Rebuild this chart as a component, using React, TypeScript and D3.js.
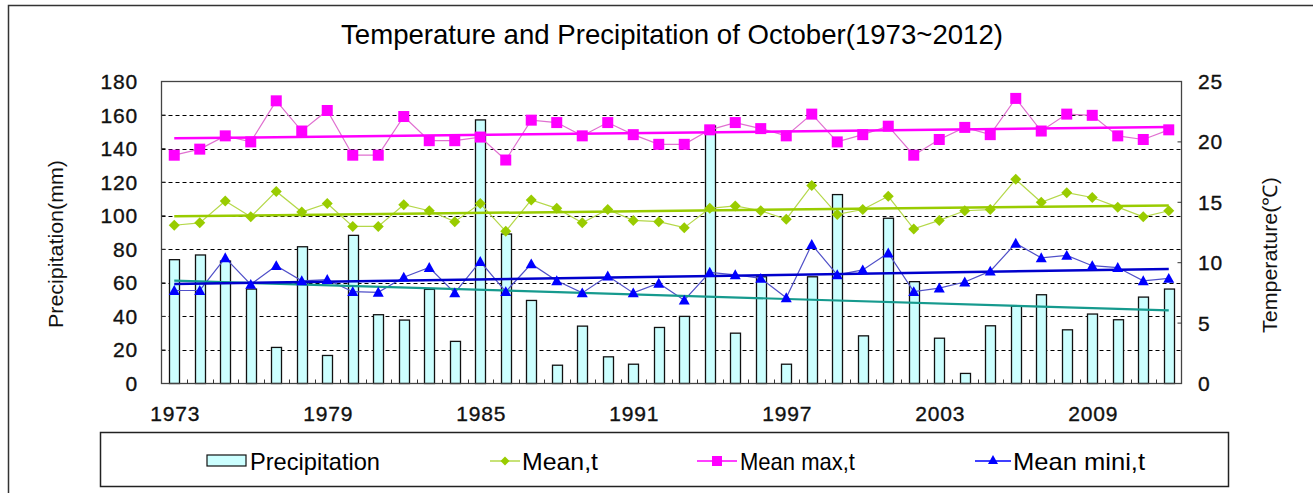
import React from 'react'
import * as d3 from 'd3'

const years = d3.range(1973, 2013)
const yearLabels = ['1973', '1979', '1985', '1991', '1997', '2003', '2009']
const precipTicks = [0, 20, 40, 60, 80, 100, 120, 140, 160, 180]
const tempTicks = [0, 5, 10, 15, 20, 25]

// mm
const precipitation = [
  73.8, 76.6, 73.0, 56.3, 21.5, 81.5, 16.7, 88.3, 41.0,
  37.8, 56.1, 25.1, 157.1, 89.1, 49.5, 10.9, 34.2, 15.9, 11.5,
  33.4, 40.0, 153.5, 30.0, 63.6, 11.5, 63.6, 112.6, 28.4, 98.5,
  60.7, 27.0, 6.0, 34.4, 46.1, 52.9, 32.0, 41.4, 38.0, 51.5, 56.3
]
// deg C
const meanT = [
  13.1, 13.3, 15.1, 13.8, 15.9, 14.2, 14.9, 13.0, 13.0,
  14.8, 14.3, 13.4, 14.9, 12.6, 15.2, 14.5, 13.3, 14.4, 13.5,
  13.4, 12.9, 14.5, 14.7, 14.3, 13.6, 16.4, 14.0, 14.4, 15.5,
  12.8, 13.5, 14.3, 14.4, 16.9, 15.0, 15.8, 15.4, 14.6, 13.8, 14.3
]
const meanMaxT = [
  18.9, 19.4, 20.5, 20.0, 23.4, 20.9, 22.6, 18.9, 18.9,
  22.1, 20.1, 20.1, 20.4, 18.5, 21.8, 21.6, 20.5, 21.6, 20.6,
  19.8, 19.8, 21.0, 21.6, 21.1, 20.5, 22.3, 20.0, 20.6, 21.3,
  18.9, 20.2, 21.2, 20.6, 23.6, 20.9, 22.3, 22.2, 20.5, 20.2, 21.0
]
const meanMinT = [
  7.7, 7.7, 10.4, 8.2, 9.75, 8.5, 8.6, 7.6, 7.55,
  8.8, 9.6, 7.5, 10.1, 7.6, 9.9, 8.5, 7.5, 8.9, 7.5,
  8.3, 6.9, 9.2, 9.0, 8.7, 7.1, 11.5, 9.0, 9.4, 10.8,
  7.6, 7.9, 8.4, 9.3, 11.6, 10.4, 10.6, 9.75, 9.6, 8.5, 8.7
]

const W = 1313
const H = 493
const plot = { left: 161.5, right: 1181.5, top: 81.5, bottom: 383.5 }
const FONT = '"Liberation Sans", Arial, sans-serif'

// least squares trend over the category index, like Excel's linear trendline
const trend = (vals: number[]) => {
  const n = vals.length
  const mx = d3.mean(d3.range(n)) as number
  const my = d3.mean(vals) as number
  let sxy = 0
  let sxx = 0
  vals.forEach((v, i) => {
    sxy += (i - mx) * (v - my)
    sxx += (i - mx) * (i - mx)
  })
  const b = sxy / sxx
  const a = my - b * mx
  return [0, n - 1].map(i => ({ i, v: a + b * i }))
}

const Diamond = ({ x, y, r, fill }: any) => (
  <path d={`M${x},${y - r}L${x + r},${y}L${x},${y + r}L${x - r},${y}Z`} fill={fill} />
)
const Square = ({ x, y, r, fill }: any) => (
  <rect x={x - r} y={y - r} width={2 * r} height={2 * r} fill={fill} />
)
const Triangle = ({ x, y, r, fill }: any) => (
  <path d={`M${x},${y - r}L${x + r},${y + r * 0.8}L${x - r},${y + r * 0.8}Z`} fill={fill} />
)

export default function App() {
  const x = d3
    .scaleBand<number>()
    .domain(years)
    .range([plot.left, plot.right])
  const cx = (i: number) => (x(years[i]) as number) + x.bandwidth() / 2
  const yP = d3.scaleLinear().domain([0, 180]).range([plot.bottom, plot.top])
  const yT = d3.scaleLinear().domain([0, 25]).range([plot.bottom, plot.top])

  const tLine = d3
    .line<number>()
    .x((_, i) => cx(i))
    .y(d => yT(d))
  const trendLine = (vals: number[], y: any) =>
    d3
      .line<{ i: number; v: number }>()
      .x(d => cx(d.i))
      .y(d => y(d.v))(trend(vals)) as string

  const series = [
    { vals: meanT, color: '#99cc00', thin: '#b5d84a', trendColor: '#99cc00', M: Diamond, r: 5.5 },
    { vals: meanMaxT, color: '#ff00ff', thin: '#e070d0', trendColor: '#ff00ff', M: Square, r: 5.5 },
    { vals: meanMinT, color: '#0000ff', thin: '#5050c8', trendColor: '#0000cc', M: Triangle, r: 5.5 }
  ]

  const tickText = { fontSize: 21, fill: '#111', stroke: '#111', strokeWidth: 0.35, letterSpacing: 0.8 }
  const legendText = { fontSize: 24, fill: '#000' }

  return (
    <svg
      width={W}
      height={H}
      style={{ position: 'absolute', left: 0, top: 0, background: '#fff' }}
      fontFamily={FONT}
    >
      <rect x={8.5} y={5.5} width={W + 10} height={H + 10} fill="#fff" stroke="#333" strokeWidth={1.5} />

      <text
        x={672}
        y={44}
        textAnchor="middle"
        fontSize={28}
        textLength={662}
        lengthAdjust="spacingAndGlyphs"
        fill="#000"
      >
        Temperature and Precipitation of October(1973~2012)
      </text>

      {/* grid */}
      {precipTicks.slice(1, -1).map(t => (
        <line
          key={t}
          x1={plot.left}
          x2={plot.right}
          y1={Math.round(yP(t)) + 0.5}
          y2={Math.round(yP(t)) + 0.5}
          stroke="#000"
          strokeDasharray="4,3"
        />
      ))}

      {/* bars */}
      {precipitation.map((v, i) => (
        <rect
          key={i}
          x={Math.round(cx(i) - 5) + 0.5}
          y={yP(v)}
          width={10}
          height={plot.bottom - yP(v)}
          fill="#ccffff"
          stroke="#111"
          strokeWidth={1.3}
        />
      ))}

      {/* plot frame */}
      <rect
        x={plot.left}
        y={plot.top}
        width={plot.right - plot.left}
        height={plot.bottom - plot.top}
        fill="none"
        stroke="#444"
        strokeWidth={1.3}
      />

      {/* x ticks at category boundaries */}
      {years.slice(1).map(yr => (
        <line
          key={yr}
          x1={Math.round(x(yr) as number) + 0.5}
          x2={Math.round(x(yr) as number) + 0.5}
          y1={plot.bottom}
          y2={plot.bottom - 4}
          stroke="#333"
        />
      ))}
      {/* y ticks */}
      {precipTicks.slice(1, -1).map(t => (
        <line key={t} x1={plot.left} x2={plot.left + 4} y1={yP(t)} y2={yP(t)} stroke="#333" />
      ))}
      {tempTicks.slice(1, -1).map(t => (
        <line key={t} x1={plot.right - 4} x2={plot.right} y1={yT(t)} y2={yT(t)} stroke="#333" />
      ))}

      {/* thin connecting lines */}
      {series.map((s, k) => (
        <path key={k} d={tLine(s.vals) as string} fill="none" stroke={s.thin} strokeWidth={1.2} />
      ))}
      {/* trend lines */}
      <path d={trendLine(precipitation, yP)} stroke="#169a8e" strokeWidth={2.2} fill="none" />
      {series.map((s, k) => (
        <path key={k} d={trendLine(s.vals, yT)} stroke={s.trendColor} strokeWidth={2.5} fill="none" />
      ))}
      {/* markers */}
      {series.map((s, k) => (
        <g key={k}>
          {s.vals.map((v, i) => (
            <s.M key={i} x={cx(i)} y={yT(v)} r={s.r} fill={s.color} />
          ))}
        </g>
      ))}

      {/* left axis labels */}
      {precipTicks.map(t => (
        <text key={t} x={138} y={yP(t) + 7.5} textAnchor="end" {...tickText}>
          {t}
        </text>
      ))}
      {/* right axis labels */}
      {tempTicks.map(t => (
        <text key={t} x={1198} y={yT(t) + 7.5} textAnchor="start" {...tickText}>
          {t}
        </text>
      ))}
      {/* x labels */}
      {yearLabels.map(l => {
        const i = years.indexOf(+l)
        return (
          <text key={l} x={cx(i) + 1} y={421} textAnchor="middle" {...tickText}>
            {l}
          </text>
        )
      })}

      <text
        transform="translate(63,244) rotate(-90)"
        textAnchor="middle"
        fontSize={20}
        textLength={168}
        lengthAdjust="spacingAndGlyphs"
        fill="#111"
      >
        Precipitation(mm)
      </text>
      <text
        transform="translate(1277,255) rotate(-90)"
        textAnchor="middle"
        fontSize={20}
        textLength={156}
        lengthAdjust="spacingAndGlyphs"
        fill="#111"
      >
        Temperature(℃)
      </text>

      {/* legend */}
      <rect x={100.5} y={432.5} width={1128} height={54} fill="#fff" stroke="#222" strokeWidth={1.5} />
      <g>
        <rect x={207} y={455} width={39} height={11} fill="#ccffff" stroke="#111" strokeWidth={1.2} />
        <text x={250} y={470} textLength={130} lengthAdjust="spacingAndGlyphs" {...legendText}>
          Precipitation
        </text>

        <line x1={490} x2={520} y1={461} y2={461} stroke="#b5d84a" strokeWidth={1.5} />
        <Diamond x={505} y={461} r={4.5} fill="#99cc00" />
        <text x={522} y={470} textLength={76} lengthAdjust="spacingAndGlyphs" {...legendText}>
          Mean,t
        </text>

        <line x1={697} x2={737} y1={461} y2={461} stroke="#ff00ff" strokeWidth={1.5} />
        <Square x={717} y={461} r={5} fill="#ff00ff" />
        <text x={740} y={470} textLength={115} lengthAdjust="spacingAndGlyphs" {...legendText}>
          Mean max,t
        </text>

        <line x1={975} x2={1011} y1={461} y2={461} stroke="#0000ff" strokeWidth={1.5} />
        <Triangle x={993} y={460} r={5} fill="#0000ff" />
        <text x={1013} y={470} textLength={132} lengthAdjust="spacingAndGlyphs" {...legendText}>
          Mean mini,t
        </text>
      </g>
    </svg>
  )
}
